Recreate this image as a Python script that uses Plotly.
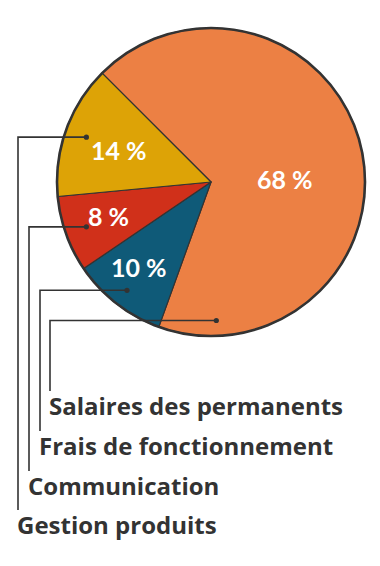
import math
import plotly.graph_objects as go

# ---- data (clockwise from the 10:30 position) ----
categories = ["Salaires des permanents", "Frais de fonctionnement", "Communication", "Gestion produits"]
values = [68, 10, 8, 14]
colors = ["#EC8044", "#0F5A78", "#D0301A", "#DDA306"]

PAGE_W, PAGE_H = 380, 566
OFF = 8  # default body margin of the page
W, H = PAGE_W - OFF, PAGE_H - OFF
CX, CY, R = 211, 182, 154   # page pixel coordinates
START = 315  # clock angle of first slice start (deg)

def px(x):
    return (x - OFF) / W

def py(y):
    return 1 - (y - OFF) / H

def polar(clock_deg, r):
    a = math.radians(clock_deg)
    return CX + r * math.sin(a), CY - r * math.cos(a)

fig = go.Figure(go.Pie(
    labels=categories, values=values, sort=False, direction="clockwise",
    rotation=START, marker=dict(colors=colors, line=dict(color="#333333", width=1.2)),
    textinfo="none", hoverinfo="label+percent", showlegend=False,
    domain=dict(x=[px(CX - R), px(CX + R)], y=[py(CY + R), py(CY - R)]),
))

total = sum(values)
bounds = []
acc = START
for v in values:
    a0 = acc
    acc += v / total * 360
    bounds.append((a0, acc))

text_off = [9.9, 2.5, 1.5, -0.5]
text_rf = [0.48, 0.72, 0.70, 0.63]
dot_rf = [0.90, 0.89, 0.86, 0.86]
col_x = [50, 40, 29, 18]
line_end = [391, 431, 471, 510]
label_y = [405, 445, 485, 524]

shapes = []
annotations = []
for i, (a0, a1) in enumerate(bounds):
    mid = (a0 + a1) / 2
    tx, ty = polar(mid + text_off[i], text_rf[i] * R)
    annotations.append(dict(
        x=px(tx), y=py(ty), xref="paper", yref="paper", showarrow=False,
        text=f"{values[i]} %", font=dict(family="Lato", size=25, color="white", weight="bold"),
        xanchor="center", yanchor="middle"))
    da = (a1 - 22) if i == 0 else mid
    dx, dy = polar(da, dot_rf[i] * R)
    shapes.append(dict(type="path", xref="paper", yref="paper",
                       path=f"M {px(dx)} {py(dy)} L {px(col_x[i])} {py(dy)} L {px(col_x[i])} {py(line_end[i])}",
                       line=dict(color="#333333", width=1.6)))
    shapes.append(dict(type="circle", xref="paper", yref="paper",
                       x0=px(dx - 2.6), x1=px(dx + 2.6), y0=py(dy + 2.6), y1=py(dy - 2.6),
                       fillcolor="#333333", line=dict(width=0)))
    annotations.append(dict(
        x=px(col_x[i] - 3), y=py(label_y[i]), xref="paper", yref="paper", showarrow=False,
        text=categories[i], font=dict(family="Open Sans", size=24, color="#333333", weight="bold"),
        xanchor="left", yanchor="middle"))

shapes.append(dict(type="circle", xref="paper", yref="paper",
                   x0=px(CX - R), x1=px(CX + R), y0=py(CY + R), y1=py(CY - R),
                   line=dict(color="#333333", width=2.6), layer="above"))

fig.update_layout(width=W, height=H, margin=dict(l=0, r=0, t=0, b=0),
                  paper_bgcolor="white", plot_bgcolor="white",
                  shapes=shapes, annotations=annotations)
fig.write_html("out.html")
